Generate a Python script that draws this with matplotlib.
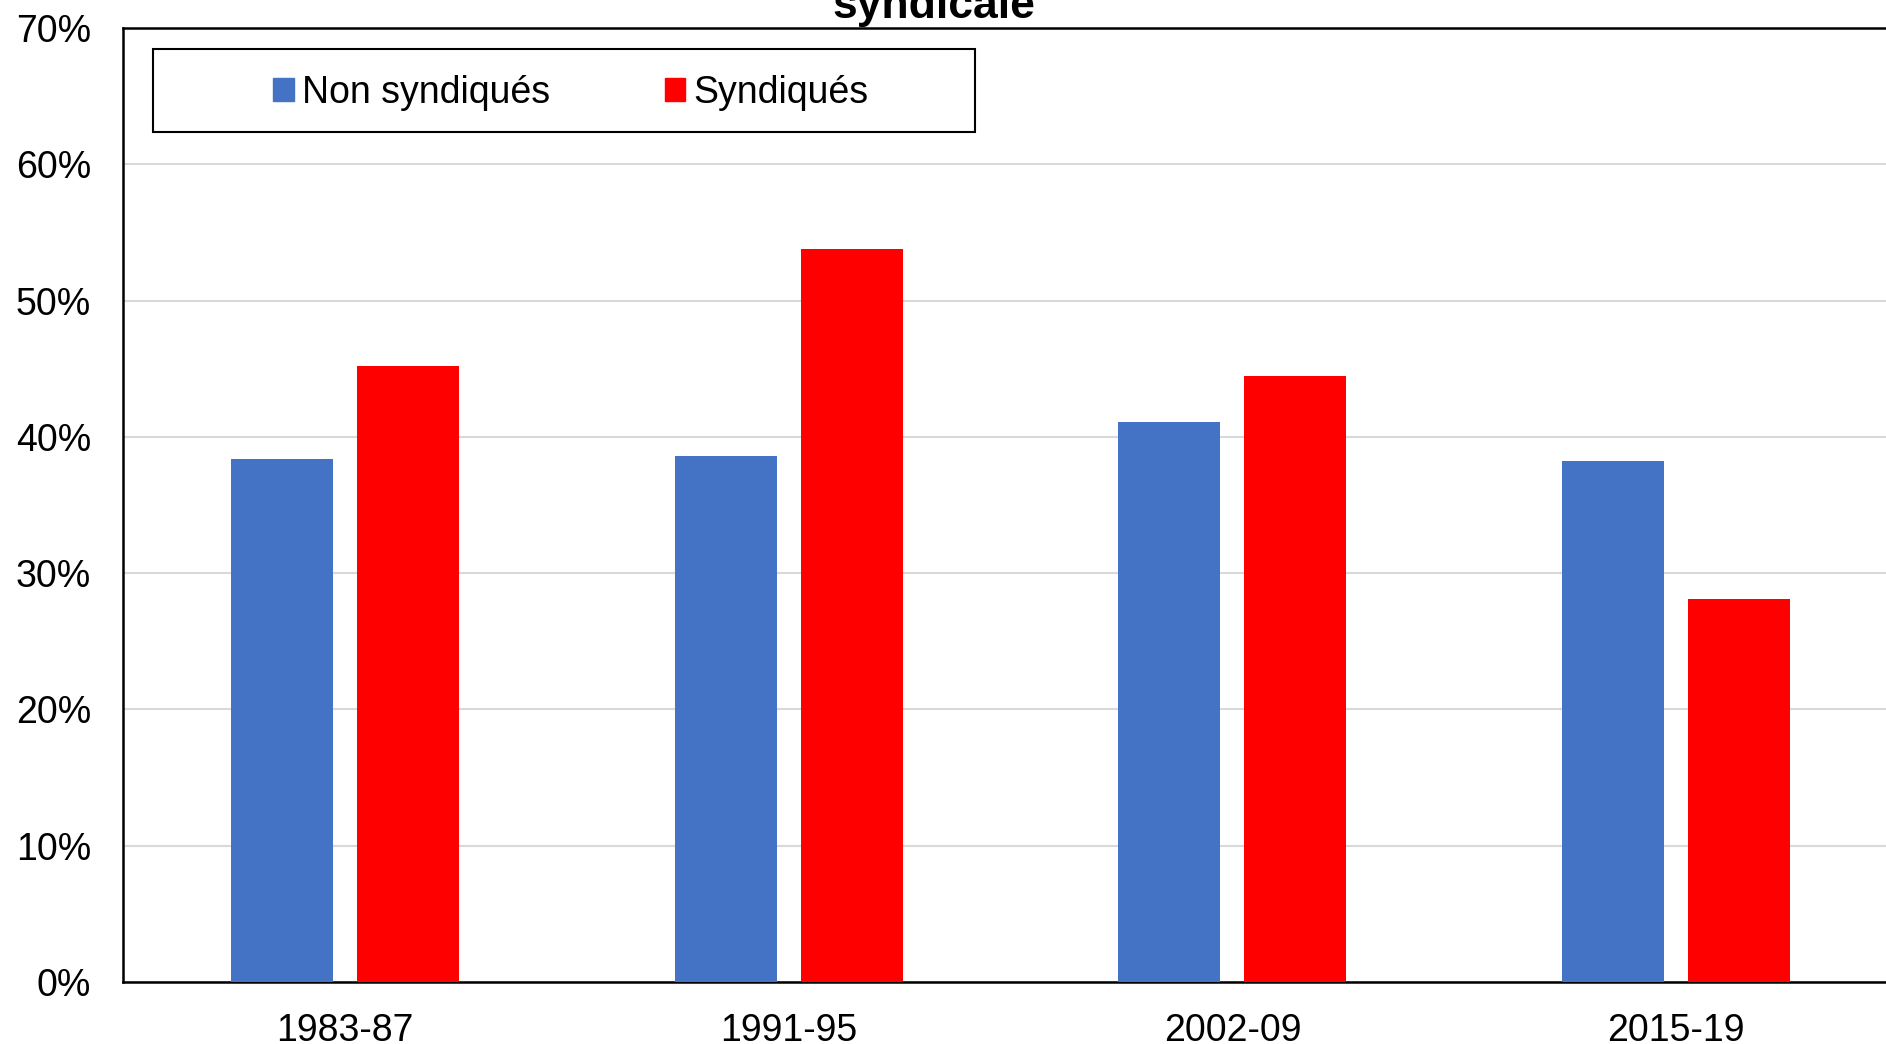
import matplotlib
matplotlib.use("Agg")
import matplotlib.pyplot as plt
from matplotlib.patches import Rectangle, Patch
import numpy as np

plt.rcParams['font.family'] = ['Liberation Sans', 'DejaVu Sans']

categories = ["1983-87", "1991-95", "2002-09", "2015-19"]
non_syndiques = [38.4, 38.6, 41.1, 38.2]
syndiques = [45.2, 53.8, 44.5, 28.1]
series_labels = ["Non syndiqués", "Syndiqués"]
yticks = [0, 10, 20, 30, 40, 50, 60, 70]
title_tail = "syndicale"

W, H = 1886, 1044
fig = plt.figure(figsize=(W / 100, H / 100), dpi=100)
left, right, top, bottom = 123, 1898, 28, 982
ax = fig.add_axes([left / W, 1 - bottom / H, (right - left) / W, (bottom - top) / H])

x = np.arange(len(categories))
bw = 0.23
off = 0.142
ax.bar(x - off, non_syndiques, bw, color="#4472C4", zorder=3)
ax.bar(x + off, syndiques, bw, color="#FF0000", zorder=3)

ax.set_xlim(-0.5, 3.5)
ax.set_ylim(0, 70)
ax.set_yticks(yticks)
ax.set_yticklabels([f"{v}%" for v in yticks])
ax.set_xticks(x)
ax.set_xticklabels(categories)
ax.tick_params(axis="y", length=0, pad=23, labelsize=27)
ax.tick_params(axis="x", length=0, pad=22, labelsize=27)
ax.yaxis.grid(True, color="#d9d9d9", linewidth=1.5, zorder=0)
ax.set_axisbelow(True)
for s in ax.spines.values():
    s.set_color("black")
    s.set_linewidth(1.8)

fig.text(934 / W, 1 - 18 / H, title_tail, ha="center", va="baseline",
         fontsize=32, fontweight="bold")

# legend
lx0, ly0, lx1, ly1 = 153, 49, 975, 132
fig.patches.append(Rectangle((lx0 / W, 1 - ly1 / H), (lx1 - lx0) / W, (ly1 - ly0) / H,
                             transform=fig.transFigure, fill=False, edgecolor="black",
                             linewidth=1.5, zorder=10))
handles = [Patch(color="#4472C4"), Patch(color="#FF0000")]
fig.legend(handles, series_labels, loc="center",
           bbox_to_anchor=(571 / W, 1 - 93 / H), ncol=2, frameon=False,
           fontsize=27, handlelength=0.55, handleheight=0.55, handletextpad=0.22,
           columnspacing=3.05, borderpad=0)

fig.savefig("out.png", dpi=100)
